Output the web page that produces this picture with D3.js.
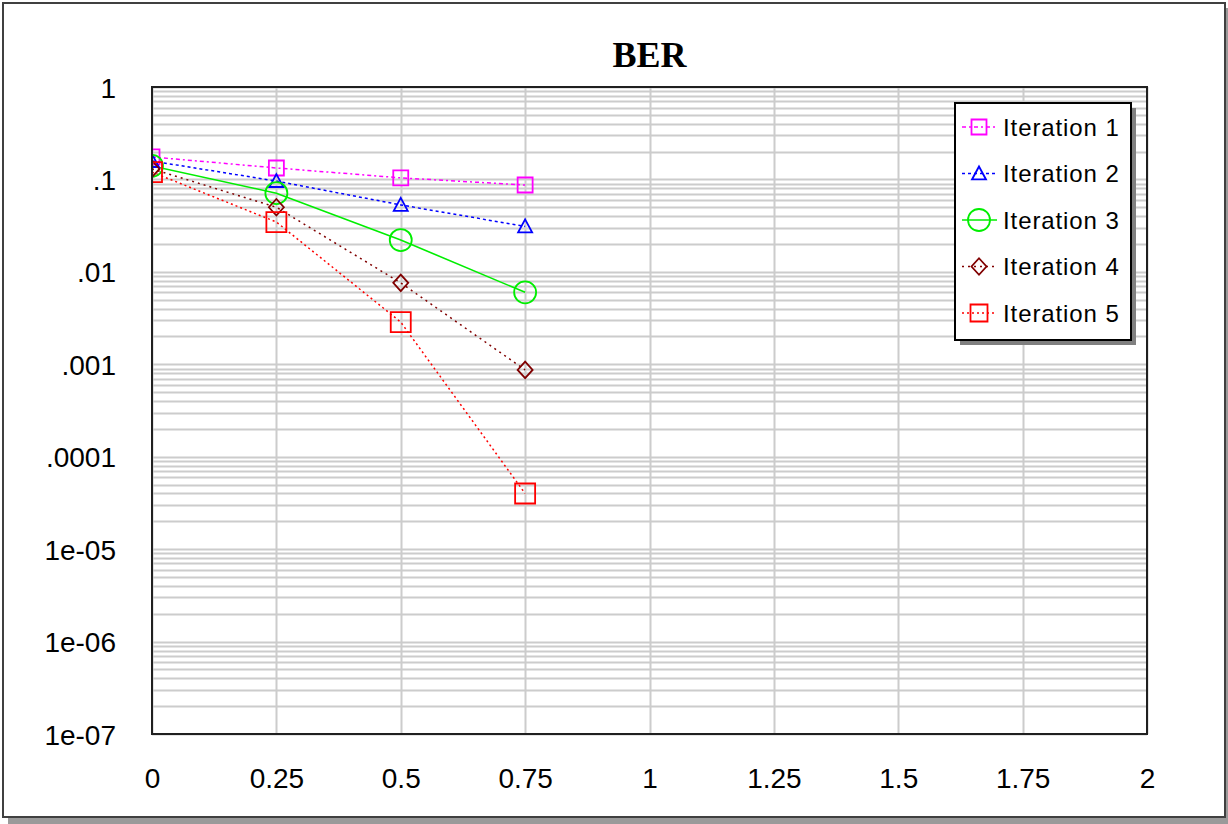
<!DOCTYPE html>
<html>
<head>
<meta charset="utf-8">
<script src="https://cdn.jsdelivr.net/npm/d3@7"></script>
<style>
  html, body { margin: 0; padding: 0; background: #ffffff; }
  svg { display: block; }
</style>
</head>
<body>
<svg id="chart" width="1228" height="824"></svg>
<script>
// ---- data ----
const xValues = [0, 0.25, 0.5, 0.75];
const iteration1 = [0.175, 0.133, 0.104, 0.087];
const iteration2 = [0.158, 0.096, 0.053, 0.031];
const iteration3 = [0.140, 0.071, 0.0221, 0.0060];
const iteration4 = [0.130, 0.050, 0.0076, 0.00087];
const iteration5 = [0.120, 0.0346, 0.00286, 0.00004];
const seriesNames = ["Iteration 1", "Iteration 2", "Iteration 3", "Iteration 4", "Iteration 5"];
const xTickValues = [0, 0.25, 0.5, 0.75, 1, 1.25, 1.5, 1.75, 2];
const xTickLabels = ["0", "0.25", "0.5", "0.75", "1", "1.25", "1.5", "1.75", "2"];
const yTickValues = [1, 0.1, 0.01, 0.001, 0.0001, 1e-5, 1e-6, 1e-7];
const yTickLabels = ["1", ".1", ".01", ".001", ".0001", "1e-05", "1e-06", "1e-07"];
const titleText = "BER";

// ---- styles ----
const styles = [
  { color: "#ff00ff", dash: "4,3,2,3", width: 1.5, marker: "square", size: 15 },
  { color: "#0000ff", dash: "3,3", width: 1.5, marker: "triangle", size: 14 },
  { color: "#00ee00", dash: null, width: 1.6, marker: "circle", size: 22 },
  { color: "#800000", dash: "2,4", width: 1.5, marker: "diamond", size: 15 },
  { color: "#ff0000", dash: "2,3", width: 1.5, marker: "square", size: 20 }
];
const allSeries = [iteration1, iteration2, iteration3, iteration4, iteration5];

const svg = d3.select("#chart");
const L = 152, R = 1147, T = 87, B = 734;
const x = d3.scaleLinear().domain([0, 2]).range([L, R]);
const y = d3.scaleLog().domain([1e-7, 1]).range([B, T]);

// outer frame with shadow
svg.append("rect").attr("x", 8).attr("y", 8).attr("width", 1222).attr("height", 816).attr("fill", "#9a9a9a");
svg.append("rect").attr("x", 3).attr("y", 3).attr("width", 1222).attr("height", 814)
  .attr("fill", "#ffffff").attr("stroke", "#404040").attr("stroke-width", 2);

// title
svg.append("text").attr("x", (L + R) / 2).attr("y", 67).attr("text-anchor", "middle")
  .style("font-family", "'Liberation Serif', 'Times New Roman', serif")
  .style("font-weight", "bold").style("font-size", "36px").attr("fill", "#000")
  .text(titleText);

// plot background
svg.append("rect").attr("x", L).attr("y", T).attr("width", R - L).attr("height", B - T).attr("fill", "#fff");

// grid
const grid = svg.append("g");
const minorVals = [];
for (let e = -7; e < 0; e++) {
  for (let m = 1; m <= 9; m++) minorVals.push(m * Math.pow(10, e));
}
minorVals.push(1);
grid.selectAll("line.h").data(minorVals).enter().append("line")
  .attr("x1", L).attr("x2", R)
  .attr("y1", d => Math.round(y(d)) + 0.5).attr("y2", d => Math.round(y(d)) + 0.5)
  .attr("stroke", "#cccccc").attr("stroke-width", 2);
grid.selectAll("line.v").data(xTickValues).enter().append("line")
  .attr("y1", T).attr("y2", B)
  .attr("x1", d => Math.round(x(d)) + 0.5).attr("x2", d => Math.round(x(d)) + 0.5)
  .attr("stroke", "#cccccc").attr("stroke-width", 2);

// clip
svg.append("clipPath").attr("id", "plotclip").append("rect")
  .attr("x", L).attr("y", T).attr("width", R - L).attr("height", B - T);

function markerPath(type, s) {
  const h = s / 2;
  if (type === "square") return `M${-h},${-h}H${h}V${h}H${-h}Z`;
  if (type === "triangle") return `M0,${-h}L${h},${h * 0.85}H${-h}Z`;
  if (type === "diamond") return `M0,${-h * 1.1}L${h},0L0,${h * 1.1}L${-h},0Z`;
  if (type === "circle") return `M${h},0A${h},${h} 0 1,1 ${-h},0A${h},${h} 0 1,1 ${h},0Z`;
}

const plot = svg.append("g").attr("clip-path", "url(#plotclip)");
const line = d3.line().x((d, i) => x(xValues[i])).y(d => y(d));

allSeries.forEach((vals, si) => {
  const st = styles[si];
  plot.append("path").datum(vals).attr("d", line)
    .attr("fill", "none").attr("stroke", st.color).attr("stroke-width", st.width)
    .attr("stroke-dasharray", st.dash);
});
allSeries.forEach((vals, si) => {
  const st = styles[si];
  plot.selectAll(null).data(vals).enter().append("path")
    .attr("transform", (d, i) => `translate(${x(xValues[i])},${y(d)})`)
    .attr("d", markerPath(st.marker, st.size))
    .attr("fill", "none").attr("stroke", st.color).attr("stroke-width", 1.8);
});

// plot border
svg.append("rect").attr("x", L).attr("y", T).attr("width", R - L).attr("height", B - T)
  .attr("fill", "none").attr("stroke", "#202020").attr("stroke-width", 2);

// axes labels
const axisFont = "'Liberation Sans', Arial, sans-serif";
const yAxis = svg.append("g").attr("transform", `translate(${116},0)`)
  .call(d3.axisLeft(y).tickValues(yTickValues).tickSize(0).tickPadding(0)
    .tickFormat((d, i) => yTickLabels[i]));
yAxis.select(".domain").remove();
yAxis.selectAll("text").style("font-family", axisFont).style("font-size", "28px")
  .attr("fill", "#000").attr("dy", "0.36em").attr("x", 0);

const xAxis = svg.append("g").attr("transform", `translate(0,${768})`)
  .call(d3.axisBottom(x).tickValues(xTickValues).tickSize(0).tickPadding(0)
    .tickFormat((d, i) => xTickLabels[i]));
xAxis.select(".domain").remove();
xAxis.selectAll("text").style("font-family", axisFont).style("font-size", "28px")
  .attr("fill", "#000").attr("dy", "0.72em").attr("y", 0);

// legend
const lg = svg.append("g");
const LX = 955, LY = 103, LW = 176, LH = 237;
lg.append("rect").attr("x", LX + 5).attr("y", LY + 5).attr("width", LW).attr("height", LH).attr("fill", "#808080");
lg.append("rect").attr("x", LX).attr("y", LY).attr("width", LW).attr("height", LH)
  .attr("fill", "#fff").attr("stroke", "#000").attr("stroke-width", 2);
seriesNames.forEach((name, i) => {
  const st = styles[i];
  const cy = 127 + i * 46.5;
  lg.append("line").attr("x1", 962).attr("x2", 997).attr("y1", cy).attr("y2", cy)
    .attr("stroke", st.color).attr("stroke-width", st.width).attr("stroke-dasharray", st.dash);
  lg.append("path").attr("transform", `translate(979,${cy})`)
    .attr("d", markerPath(st.marker, st.marker === "square" ? Math.min(st.size, 17) : st.size))
    .attr("fill", "none").attr("stroke", st.color).attr("stroke-width", 1.8);
  lg.append("text").attr("x", 1003).attr("y", cy).attr("dy", "0.36em")
    .style("font-family", axisFont).style("font-size", "24px").style("letter-spacing", "0.9px")
    .attr("fill", "#000").text(name);
});
</script>
</body>
</html>
